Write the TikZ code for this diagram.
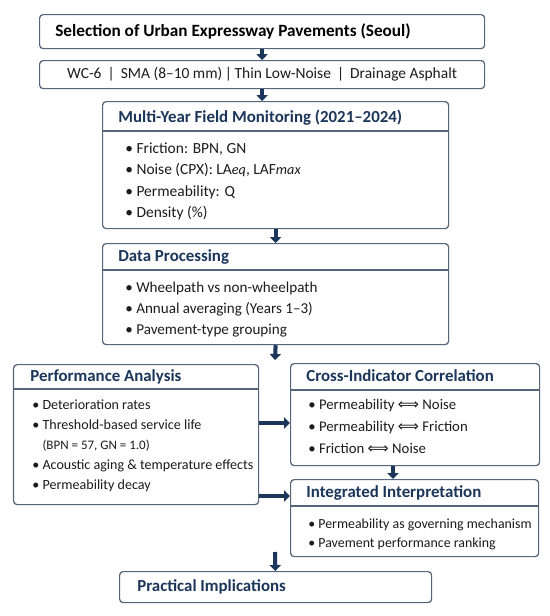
\documentclass[tikz,border=0pt]{standalone}
\usepackage{fontspec}
\setmainfont{Carlito}
\newfontfamily\arrowfont{DejaVu Sans}
\usetikzlibrary{arrows.meta, positioning, calc}

\definecolor{navy}{HTML}{1B365A}
\definecolor{edgegray}{HTML}{55657A}
\definecolor{ink}{HTML}{1C1C1C}

\newcommand{\corr}{~{\arrowfont\fontsize{8.4}{9}\selectfont ⟺}~}

\begin{document}
\begin{tikzpicture}[
        panel/.style={draw=edgegray, line width=0.7pt, rounded corners=2pt, fill=white, anchor=north west, inner sep=0pt},
        head/.style={anchor=west, inner sep=0pt, text=navy, font=\bfseries\fontsize{9.6}{11}\selectfont},
        body/.style={anchor=north west, inner sep=0pt, align=left, text=ink, font=\fontsize{8.6}{12.2}\selectfont},
        divider/.style={draw=edgegray, line width=0.6pt},
        flow/.style={-{Triangle[width=6.4pt,length=3.4pt]}, line width=2.3pt, draw=navy}
    ]
        \useasboundingbox[fill=white] (0,0) rectangle (11,-12.32);

        % boxes
        \node[panel, minimum width=8.9cm, minimum height=0.68cm] (sel) at (0.78,-0.28) {};
        \node[panel, minimum width=8.9cm, minimum height=0.56cm] (types) at (0.78,-1.20) {};
        \node[panel, minimum width=6.92cm, minimum height=2.54cm] (mon) at (2.04,-2.02) {};
        \node[panel, minimum width=6.92cm, minimum height=2.02cm] (proc) at (2.04,-4.86) {};
        \node[panel, minimum width=4.9cm, minimum height=2.8cm] (perf) at (0.26,-7.28) {};
        \node[panel, minimum width=4.98cm, minimum height=2.04cm] (cross) at (5.80,-7.26) {};
        \node[panel, minimum width=4.96cm, minimum height=1.54cm] (integ) at (5.80,-9.58) {};
        \node[panel, minimum width=6.24cm, minimum height=0.62cm] (pract) at (2.38,-11.42) {};

        % titles
        \node[head, text=black, font=\bfseries\fontsize{9.8}{12}\selectfont] (selt) at ($(sel.west)+(0.32,0)$) {Selection of Urban Expressway Pavements (Seoul)};
        \node[inner sep=0pt, text=ink, font=\fontsize{8.8}{11}\selectfont] (typest) at (types.center) {WC-6 \,|\, SMA (8--10 mm)\,|\,Thin Low-Noise \,|\, Drainage Asphalt};
        \node[head] (mont) at ($(mon.north west)+(0.32,-0.34)$) {Multi-Year Field Monitoring (2021--2024)};
        \node[head] (proct) at ($(proc.north west)+(0.32,-0.28)$) {Data Processing};
        \node[head] (perft) at ($(perf.north west)+(0.34,-0.26)$) {Performance Analysis};
        \node[head] (crosst) at ($(cross.north west)+(0.32,-0.26)$) {Cross-Indicator Correlation};
        \node[head] (integt) at ($(integ.north west)+(0.32,-0.28)$) {Integrated Interpretation};
        \node[head] (practt) at ($(pract.west)+(0.36,0)$) {Practical Implications};

        \draw[divider] ($(mon.north west)+(0,-0.6)$) -- ($(mon.north east)+(0,-0.6)$);
        \draw[divider] ($(proc.north west)+(0,-0.54)$) -- ($(proc.north east)+(0,-0.54)$);
        \draw[divider] ($(perf.north west)+(0,-0.5)$) -- ($(perf.north east)+(0,-0.5)$);
        \draw[divider] ($(cross.north west)+(0,-0.54)$) -- ($(cross.north east)+(0,-0.54)$);
        \draw[divider] ($(integ.north west)+(0,-0.54)$) -- ($(integ.north east)+(0,-0.54)$);

        % bullet lists
        \node[body, font=\fontsize{8.8}{12.2}\selectfont] (monb) at ($(mon.north west)+(0.46,-0.83)$) {\textbullet\ Friction: BPN, GN\\
            \textbullet\ Noise (CPX): LA{\fontsize{8.1}{9}\selectfont\itshape eq}, LAF{\fontsize{8.1}{9}\selectfont\itshape max}\\
            \textbullet\ Permeability: Q\\
            \textbullet\ Density (\%)};
        \node[body, font=\fontsize{8.6}{11.9}\selectfont] (procb) at ($(proc.north west)+(0.46,-0.77)$) {\textbullet\ Wheelpath vs non-wheelpath\\
            \textbullet\ Annual averaging (Years 1--3)\\
            \textbullet\ Pavement-type grouping};
        \node[body, font=\fontsize{8}{11.3}\selectfont] (perfb) at ($(perf.north west)+(0.38,-0.71)$) {\textbullet\ Deterioration rates\\
            \textbullet\ Threshold-based service life\\
            \phantom{\textbullet\ }{\fontsize{7.4}{8}\selectfont(BPN = 57, GN = 1.0)}\\
            \textbullet\ Acoustic aging \& temperature effects\\
            \textbullet\ Permeability decay};
        \node[body, font=\fontsize{8.4}{12.5}\selectfont] (crossb) at ($(cross.north west)+(0.36,-0.72)$) {\textbullet\ Permeability\corr Noise\\
            \textbullet\ Permeability\corr Friction\\
            \textbullet\ Friction\corr Noise};
        \node[body, font=\fontsize{7.9}{10.8}\selectfont] (integb) at ($(integ.north west)+(0.36,-0.79)$) {\textbullet\ Permeability as governing mechanism\\
            \textbullet\ Pavement performance ranking};

        % connectors
        \coordinate (split) at (5.5,-7.2);
        \coordinate (join) at (5.5,-11.04);
        \coordinate (r1) at (0,-8.46);
        \coordinate (r2) at (0,-9.92);
        \coordinate (c3) at (7.86,0);

        \draw[flow] (sel) -- (types);
        \draw[flow] (types.south) -- (types.south |- mon.north);
        \draw[flow] (mon) -- (proc);
        \draw[flow] (proc.south) -- (split);
        \draw[flow] (perf.east |- r1) -- (cross.west |- r1);
        \draw[flow] (perf.east |- r2) -- (integ.west |- r2);
        \draw[flow] (cross.south -| c3) -- (integ.north -| c3);
        \draw[flow] (join) -- (pract);
    \end{tikzpicture}
\end{document}
